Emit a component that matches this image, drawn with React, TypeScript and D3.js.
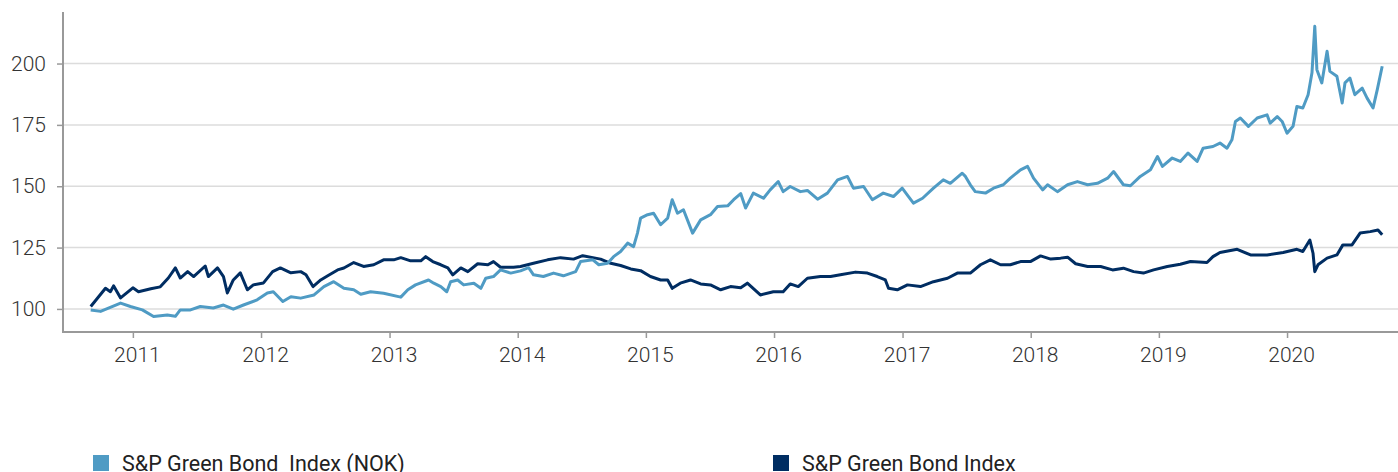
import React from "react";
import * as d3 from "d3";

// S&P Green Bond Index (NOK)
const nokSeries: [string, number][] = [
  ["2010-09-03", 99.6], ["2010-10-01", 99.0], ["2010-11-27", 102.4], ["2010-12-25", 101.0],
  ["2011-01-28", 99.6], ["2011-03-01", 96.9], ["2011-04-09", 97.5], ["2011-05-02", 97.0],
  ["2011-05-16", 99.6], ["2011-06-14", 99.6], ["2011-07-12", 101.0], ["2011-08-18", 100.4],
  ["2011-09-16", 101.6], ["2011-10-14", 99.9], ["2011-11-12", 101.6], ["2011-12-21", 103.7],
  ["2012-01-19", 106.5], ["2012-02-05", 107.0], ["2012-03-03", 103.0], ["2012-03-26", 105.0],
  ["2012-04-23", 104.4], ["2012-05-31", 105.7], ["2012-06-28", 109.1], ["2012-07-26", 111.1],
  ["2012-08-24", 108.4], ["2012-09-21", 107.8], ["2012-10-11", 106.0], ["2012-11-08", 107.0],
  ["2012-12-15", 106.4], ["2013-02-02", 104.8], ["2013-02-22", 107.8], ["2013-03-16", 109.8],
  ["2013-04-22", 111.8], ["2013-05-07", 110.5], ["2013-05-27", 109.1], ["2013-06-13", 107.0],
  ["2013-06-24", 111.1], ["2013-07-14", 111.8], ["2013-07-31", 109.8], ["2013-08-29", 110.5],
  ["2013-09-18", 108.4], ["2013-10-02", 112.5], ["2013-10-24", 113.2], ["2013-11-13", 115.9],
  ["2013-12-12", 114.6], ["2014-01-09", 115.5], ["2014-02-01", 116.8], ["2014-02-15", 113.9],
  ["2014-03-15", 113.2], ["2014-04-13", 114.6], ["2014-05-11", 113.5], ["2014-06-15", 115.2],
  ["2014-06-29", 119.3], ["2014-08-03", 120.0], ["2014-08-20", 118.0], ["2014-09-14", 118.6],
  ["2014-10-01", 121.3], ["2014-10-21", 123.4], ["2014-11-10", 126.8], ["2014-11-27", 125.4],
  ["2014-12-08", 130.9], ["2014-12-17", 137.0], ["2015-01-06", 138.4], ["2015-01-23", 139.0],
  ["2015-02-12", 134.3], ["2015-03-04", 137.0], ["2015-03-17", 144.5], ["2015-04-01", 139.0],
  ["2015-04-18", 140.4], ["2015-05-14", 130.9], ["2015-06-06", 136.3], ["2015-07-04", 138.4],
  ["2015-07-24", 141.7], ["2015-08-22", 142.0], ["2015-09-08", 144.5], ["2015-09-28", 147.0],
  ["2015-10-12", 141.1], ["2015-11-03", 147.2], ["2015-12-02", 145.1], ["2015-12-21", 148.5],
  ["2016-01-13", 151.9], ["2016-01-27", 147.8], ["2016-02-16", 149.9], ["2016-03-16", 147.8],
  ["2016-04-05", 148.3], ["2016-05-04", 144.7], ["2016-06-01", 147.2], ["2016-06-30", 152.6],
  ["2016-07-28", 154.0], ["2016-08-14", 149.2], ["2016-09-12", 149.9], ["2016-10-07", 144.5],
  ["2016-11-07", 147.2], ["2016-12-06", 145.8], ["2016-12-31", 149.2], ["2017-01-18", 145.8],
  ["2017-02-01", 143.1], ["2017-02-27", 145.1], ["2017-03-30", 149.2], ["2017-04-27", 152.6],
  ["2017-05-17", 151.2], ["2017-06-20", 155.3], ["2017-06-29", 154.0], ["2017-07-13", 150.6],
  ["2017-07-27", 147.8], ["2017-08-25", 147.2], ["2017-09-17", 149.2], ["2017-10-15", 150.6],
  ["2017-11-04", 153.3], ["2017-12-03", 156.7], ["2017-12-23", 158.1], ["2018-01-09", 153.3],
  ["2018-02-04", 148.5], ["2018-02-18", 150.6], ["2018-03-18", 147.8], ["2018-04-16", 150.6],
  ["2018-05-14", 151.9], ["2018-06-12", 150.6], ["2018-07-10", 151.2], ["2018-08-08", 153.3],
  ["2018-08-25", 156.0], ["2018-09-22", 150.6], ["2018-10-12", 150.2], ["2018-11-09", 154.0],
  ["2018-12-08", 156.7], ["2018-12-28", 162.1], ["2019-01-11", 158.1], ["2019-02-08", 161.5],
  ["2019-03-03", 160.1], ["2019-03-25", 163.5], ["2019-04-20", 160.1], ["2019-05-07", 165.5],
  ["2019-06-04", 166.2], ["2019-06-24", 167.6], ["2019-07-14", 165.5], ["2019-07-28", 168.9],
  ["2019-08-07", 176.4], ["2019-08-21", 177.8], ["2019-09-13", 174.4], ["2019-10-08", 177.8],
  ["2019-11-05", 179.1], ["2019-11-14", 175.7], ["2019-12-04", 178.4], ["2019-12-18", 176.4],
  ["2020-01-01", 171.6], ["2020-01-18", 174.4], ["2020-01-29", 182.5], ["2020-02-15", 181.9],
  ["2020-03-01", 187.3], ["2020-03-12", 196.2], ["2020-03-20", 215.2], ["2020-03-26", 197.5],
  ["2020-04-09", 192.1], ["2020-04-24", 205.0], ["2020-05-02", 196.8], ["2020-05-22", 194.8],
  ["2020-06-06", 183.9], ["2020-06-14", 192.1], ["2020-06-28", 194.1], ["2020-07-12", 187.3],
  ["2020-08-02", 190.0], ["2020-08-16", 185.9], ["2020-09-02", 181.9], ["2020-09-14", 189.4],
  ["2020-09-28", 198.9],
];

// S&P Green Bond Index
const usdSeries: [string, number][] = [
  ["2010-09-03", 101.0], ["2010-10-15", 108.4], ["2010-10-29", 107.0], ["2010-11-07", 109.4],
  ["2010-11-27", 104.5], ["2011-01-01", 108.6], ["2011-01-17", 107.0], ["2011-02-21", 108.2],
  ["2011-03-20", 109.0], ["2011-04-12", 112.6], ["2011-05-02", 116.7], ["2011-05-16", 112.6],
  ["2011-06-06", 115.2], ["2011-06-23", 113.2], ["2011-07-26", 117.5], ["2011-08-04", 113.2],
  ["2011-08-30", 116.7], ["2011-09-16", 113.2], ["2011-09-27", 106.5], ["2011-10-14", 111.8],
  ["2011-11-03", 114.7], ["2011-11-23", 107.8], ["2011-12-10", 109.8], ["2012-01-08", 110.6],
  ["2012-02-03", 115.2], ["2012-02-25", 116.7], ["2012-03-26", 114.7], ["2012-04-23", 115.2],
  ["2012-05-08", 113.9], ["2012-05-28", 109.1], ["2012-06-19", 111.8], ["2012-07-09", 113.5],
  ["2012-08-06", 115.9], ["2012-08-24", 116.7], ["2012-09-21", 118.9], ["2012-10-19", 117.3],
  ["2012-11-17", 118.0], ["2012-12-15", 120.0], ["2013-01-13", 120.0], ["2013-02-02", 120.9],
  ["2013-03-02", 119.6], ["2013-03-31", 119.6], ["2013-04-14", 121.3], ["2013-05-04", 119.3],
  ["2013-05-27", 118.0], ["2013-06-16", 116.7], ["2013-06-30", 113.9], ["2013-07-23", 116.7],
  ["2013-08-12", 115.2], ["2013-09-09", 118.4], ["2013-10-08", 118.0], ["2013-10-24", 119.3],
  ["2013-11-13", 117.0], ["2013-12-20", 117.0], ["2014-01-09", 117.3], ["2014-02-15", 118.6],
  ["2014-03-27", 120.0], ["2014-05-03", 120.9], ["2014-06-09", 120.3], ["2014-07-05", 121.7],
  ["2014-08-03", 120.9], ["2014-08-25", 120.3], ["2014-09-23", 118.6], ["2014-10-21", 117.7],
  ["2014-11-19", 116.3], ["2014-12-17", 115.6], ["2015-01-14", 113.2], ["2015-02-12", 111.8],
  ["2015-03-04", 111.8], ["2015-03-17", 108.4], ["2015-04-09", 110.5], ["2015-05-08", 111.8],
  ["2015-06-06", 110.2], ["2015-07-04", 109.8], ["2015-08-02", 107.8], ["2015-08-30", 109.1],
  ["2015-09-28", 108.6], ["2015-10-17", 110.5], ["2015-11-23", 105.7], ["2015-12-30", 107.0],
  ["2016-01-27", 107.0], ["2016-02-16", 110.2], ["2016-03-10", 109.1], ["2016-04-05", 112.5],
  ["2016-05-12", 113.2], ["2016-06-10", 113.2], ["2016-07-08", 113.9], ["2016-08-20", 115.0],
  ["2016-09-23", 114.6], ["2016-10-21", 113.2], ["2016-11-13", 111.8], ["2016-11-22", 108.4],
  ["2016-12-17", 107.8], ["2017-01-15", 109.8], ["2017-02-21", 109.1], ["2017-03-30", 111.1],
  ["2017-05-09", 112.5], ["2017-06-06", 114.6], ["2017-07-13", 114.6], ["2017-08-11", 118.0],
  ["2017-09-08", 120.0], ["2017-10-07", 118.0], ["2017-11-04", 118.0], ["2017-12-03", 119.3],
  ["2017-12-31", 119.3], ["2018-01-29", 121.6], ["2018-02-27", 120.3], ["2018-03-27", 120.7],
  ["2018-04-16", 121.1], ["2018-05-09", 118.4], ["2018-06-12", 117.3], ["2018-07-19", 117.3],
  ["2018-08-22", 115.9], ["2018-09-22", 116.6], ["2018-10-21", 115.2], ["2018-11-18", 114.6],
  ["2018-12-17", 115.9], ["2019-01-25", 117.3], ["2019-03-03", 118.2], ["2019-04-01", 119.3],
  ["2019-05-18", 118.9], ["2019-06-04", 121.3], ["2019-06-24", 123.0], ["2019-08-12", 124.3],
  ["2019-09-19", 122.0], ["2019-11-05", 122.0], ["2019-12-21", 123.0], ["2020-01-29", 124.3],
  ["2020-02-15", 123.4], ["2020-03-06", 128.1], ["2020-03-15", 122.7], ["2020-03-20", 115.2],
  ["2020-03-29", 118.0], ["2020-04-24", 120.7], ["2020-05-22", 122.0], ["2020-06-08", 126.1],
  ["2020-07-04", 126.1], ["2020-07-27", 130.9], ["2020-08-25", 131.5], ["2020-09-16", 132.2],
  ["2020-09-28", 130.2],
];

const yTicks = [100, 125, 150, 175, 200];
const seriesNames = ["S&P Green Bond  Index (NOK)", "S&P Green Bond Index"];
const colors = ["#4f9bc4", "#002d62"];

const App = () => {
  const svgRef = React.useRef(null);
  const width = 1398;
  const height = 472;
  const left = 63;
  const top = 12;
  const bottom = 332;

  React.useEffect(() => {
    const parse = d3.timeParse("%Y-%m-%d");
    const svg = d3.select(svgRef.current);
    svg.selectAll("*").remove();

    const x = d3
      .scaleTime()
      .domain([parse("2010-06-16"), parse("2020-11-12")])
      .range([left, width]);
    const y = d3.scaleLinear().domain([90.6, 221]).range([bottom, top]);

    const font = "Roboto, 'Liberation Sans', Arial, sans-serif";

    // grid lines
    svg
      .append("g")
      .selectAll("line")
      .data(yTicks)
      .join("line")
      .attr("x1", left)
      .attr("x2", width)
      .attr("y1", (d) => y(d))
      .attr("y2", (d) => y(d))
      .attr("stroke", "#dcdcdc")
      .attr("stroke-width", 1.5);

    // y axis
    const yAxis = svg
      .append("g")
      .attr("transform", `translate(${left},0)`)
      .call(d3.axisLeft(y).tickValues(yTicks).tickSize(6).tickPadding(11));
    yAxis.select(".domain").remove();
    yAxis.selectAll("line").attr("stroke", "#999").attr("stroke-width", 1.5);
    yAxis
      .selectAll("text")
      .attr("fill", "#333")
      .style("font-family", font)
      .style("font-weight", 300)
      .style("font-size", "21px");

    // x axis
    const xAxis = svg
      .append("g")
      .attr("transform", `translate(0,${bottom})`)
      .call(
        d3
          .axisBottom(x)
          .ticks(d3.timeYear.every(1))
          .tickFormat(d3.timeFormat("%Y"))
          .tickSize(6)
          .tickPadding(9)
      );
    xAxis.select(".domain").remove();
    xAxis.selectAll("line").attr("stroke", "#999").attr("stroke-width", 1.5);
    xAxis
      .selectAll("text")
      .attr("fill", "#333")
      .attr("dx", 4)
      .style("font-family", font)
      .style("font-weight", 300)
      .style("font-size", "21px");

    // axis lines
    svg
      .append("line")
      .attr("x1", left)
      .attr("x2", left)
      .attr("y1", top)
      .attr("y2", bottom)
      .attr("stroke", "#999")
      .attr("stroke-width", 2);
    svg
      .append("line")
      .attr("x1", left - 1)
      .attr("x2", width)
      .attr("y1", bottom)
      .attr("y2", bottom)
      .attr("stroke", "#999")
      .attr("stroke-width", 2);

    const line = d3
      .line()
      .x((d) => x(parse(d[0])))
      .y((d) => y(d[1]));

    [usdSeries, nokSeries].forEach((s, i) => {
      svg
        .append("path")
        .datum(s)
        .attr("fill", "none")
        .attr("stroke", i === 0 ? colors[1] : colors[0])
        .attr("stroke-width", 3)
        .attr("stroke-linejoin", "round")
        .attr("d", line);
    });

    // legend
    const legendX = [93, 773];
    const legend = svg
      .append("g")
      .selectAll("g")
      .data(seriesNames)
      .join("g")
      .attr("transform", (d, i) => `translate(${legendX[i]},455)`);
    legend
      .append("rect")
      .attr("width", 16)
      .attr("height", 16)
      .attr("fill", (d, i) => colors[i]);
    legend
      .append("text")
      .attr("x", 29)
      .attr("y", 15.5)
      .attr("fill", "#222")
      .style("font-family", font)
      .style("font-size", "21.5px")
      .style("white-space", "pre")
      .text((d) => d);
  }, []);

  return (
    <svg
      ref={svgRef}
      width={width}
      height={height}
      style={{ position: "absolute", left: 0, top: 0, background: "#fff" }}
    />
  );
};

export default App;
